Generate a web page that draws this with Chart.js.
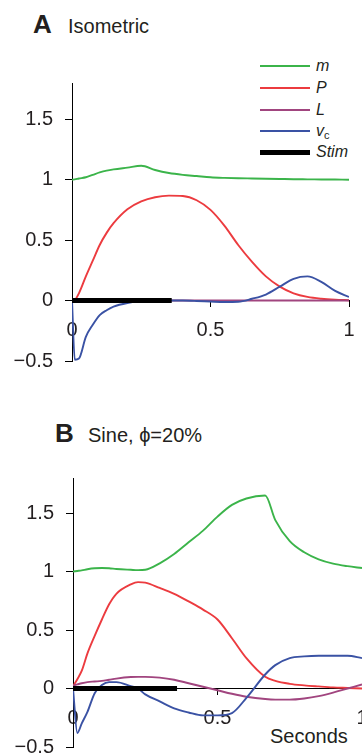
<!DOCTYPE html>
<html>
<head>
<meta charset="utf-8">
<script src="https://cdn.jsdelivr.net/npm/chart.js@4.4.1/dist/chart.umd.min.js"></script>
<style>
  body { margin: 0; width: 362px; height: 755px; position: relative; overflow: hidden; background: #fff;
         font-family: "Liberation Sans", Arial, sans-serif; color: #231f20; }
  canvas { position: absolute; left: 0; }
  #chartA { top: 0; }
  #chartB { top: 380px; }
  .t { position: absolute; white-space: nowrap; }
  .big { font-size: 26px; line-height: 26px; font-weight: bold; }
  .sub { font-size: 20px; line-height: 20px; }
  .key { position: absolute; left: 260px; width: 50px; }
  .lab { position: absolute; left: 316px; font-size: 16px; line-height: 16px; font-style: italic; }
  .lab sub { font-style: normal; font-size: 11px; vertical-align: -3px; }
</style>
</head>
<body>
<div class="t big" style="left:33px; top:11px">A</div>
<div class="t sub" style="left:68px; top:16px">Isometric</div>
<div class="t big" style="left:55px; top:420px">B</div>
<div class="t sub" style="left:88px; top:425px">Sine, ϕ=20%</div>
<div class="t sub" style="left:270px; top:726px">Seconds</div>

<div class="key" style="top:65px; height:2px; background:#3bb44a"></div>
<div class="key" style="top:87px; height:2px; background:#ec3b3f"></div>
<div class="key" style="top:109px; height:2px; background:#a1457f"></div>
<div class="key" style="top:130px; height:2px; background:#3a52a4"></div>
<div class="key" style="top:150px; height:5px; background:#000"></div>
<div class="lab" style="top:58px">m</div>
<div class="lab" style="top:80px">P</div>
<div class="lab" style="top:102px">L</div>
<div class="lab" style="top:123px">v<sub>c</sub></div>
<div class="lab" style="top:144px">Stim</div>

<canvas id="chartA" width="362" height="380"></canvas>
<canvas id="chartB" width="362" height="375"></canvas>

<script>
// panel A, isometric
const timeA = [0, 0.01, 0.025, 0.05, 0.075, 0.1, 0.125, 0.15, 0.2, 0.25, 0.3, 0.35, 0.4, 0.45, 0.5, 0.55, 0.6, 0.65, 0.7, 0.75, 0.8, 0.85, 0.9, 0.95, 1];
const mA  = [1, 1.003, 1.01, 1.02, 1.04, 1.06, 1.075, 1.085, 1.1, 1.115, 1.08, 1.055, 1.04, 1.03, 1.02, 1.015, 1.012, 1.01, 1.008, 1.006, 1.004, 1.003, 1.002, 1.001, 1];
const pA  = [0, 0.005, 0.06, 0.2, 0.33, 0.46, 0.56, 0.64, 0.755, 0.82, 0.855, 0.868, 0.865, 0.83, 0.75, 0.62, 0.46, 0.32, 0.2, 0.115, 0.06, 0.03, 0.015, 0.007, 0.003];
const lA  = [0, 0, 0, 0, 0, 0, 0, 0, 0, 0, 0, 0, 0, 0, 0, 0, 0, 0, 0, 0, 0, 0, 0, 0, 0];
const vA  = [0, -0.49, -0.48, -0.3, -0.2, -0.12, -0.08, -0.05, -0.02, -0.005, 0, 0, 0, -0.003, -0.008, -0.012, -0.01, 0.015, 0.05, 0.115, 0.18, 0.2, 0.155, 0.08, 0.03];
const stimA = [0, 0.36];

// panel B, sine, phase 20%
const timeB = [0, 0.015, 0.03, 0.05, 0.075, 0.1, 0.125, 0.15, 0.2, 0.225, 0.25, 0.3, 0.35, 0.4, 0.45, 0.5, 0.55, 0.6, 0.665, 0.7, 0.75, 0.8, 0.85, 0.9, 0.95, 1];
const mB  = [1, 1.005, 1.01, 1.02, 1.028, 1.03, 1.028, 1.022, 1.015, 1.012, 1.015, 1.07, 1.15, 1.25, 1.35, 1.47, 1.57, 1.625, 1.65, 1.44, 1.26, 1.165, 1.105, 1.068, 1.046, 1.03];
const pB  = [0.02, 0.08, 0.15, 0.3, 0.45, 0.59, 0.72, 0.81, 0.89, 0.91, 0.905, 0.86, 0.81, 0.745, 0.675, 0.59, 0.43, 0.26, 0.1, 0.065, 0.04, 0.027, 0.018, 0.01, 0.005, 0];
const lB  = [0.025, 0.035, 0.045, 0.055, 0.06, 0.065, 0.075, 0.085, 0.098, 0.1, 0.1, 0.093, 0.075, 0.045, 0.015, -0.015, -0.045, -0.07, -0.09, -0.095, -0.095, -0.085, -0.065, -0.035, 0, 0.035];
const vB  = [0, -0.38, -0.3, -0.2, -0.04, 0.03, 0.055, 0.055, 0.02, 0, -0.05, -0.11, -0.17, -0.205, -0.23, -0.23, -0.21, -0.08, 0.12, 0.2, 0.26, 0.275, 0.28, 0.28, 0.28, 0.26];
const stimB = [0, 0.36];

const yTicks = [-0.5, 0, 0.5, 1, 1.5];
const xTicks = [0, 0.5, 1];

const colors = { m: '#3bb44a', P: '#ec3b3f', L: '#a1457f', vc: '#3a52a4', stim: '#000' };
const family = '"Liberation Sans", Arial, sans-serif';
const ink = '#231f20';

Chart.defaults.font.family = family;
Chart.defaults.color = ink;

const fmt = v => String(v).replace('-', '\u2212');

function series(times, vals, color, order, width) {
  return {
    data: times.map((t, i) => ({ x: t, y: vals[i] })),
    borderColor: color,
    borderWidth: width || 1.9,
    pointRadius: 0,
    fill: false,
    cubicInterpolationMode: 'monotone',
    borderCapStyle: 'butt',
    order
  };
}

function stimLine(times) {
  return series(times, times.map(() => 0), colors.stim, 0, 5);
}

function makePanel(id, t, m, p, l, v, stim, pad, yWidth) {
  return new Chart(document.getElementById(id), {
    type: 'line',
    data: {
      datasets: [
        series(t, m, colors.m, 4),
        series(t, p, colors.P, 3),
        series(t, l, colors.L, 2),
        series(t, v, colors.vc, 1),
        stimLine(stim)
      ]
    },
    options: {
      responsive: false,
      animation: false,
      events: [],
      layout: { padding: pad },
      plugins: { legend: { display: false }, tooltip: { enabled: false } },
      scales: {
        x: {
          type: 'linear',
          min: 0,
          max: 1,
          position: { y: 0 },
          afterBuildTicks: s => { s.ticks = xTicks.map(value => ({ value })); },
          afterFit: s => { s.paddingLeft = 0; s.paddingRight = 0; },
          ticks: { padding: 12, maxRotation: 0, color: ink, font: { size: 20 }, callback: fmt },
          grid: { drawOnChartArea: false, tickLength: 6, tickColor: '#000', tickWidth: 1 },
          border: { color: '#000', width: 1 }
        },
        y: {
          type: 'linear',
          min: -0.5,
          max: 1.8,
          afterBuildTicks: s => { s.ticks = yTicks.map(value => ({ value })); },
          afterFit: s => { s.width = yWidth; s.paddingTop = 0; s.paddingBottom = 0; },
          ticks: { padding: 12, color: ink, font: { size: 20 }, callback: fmt },
          grid: { drawOnChartArea: false, tickLength: 7, tickColor: '#000', tickWidth: 1 },
          border: { color: '#000', width: 1 }
        }
      }
    }
  });
}

makePanel('chartA', timeA, mA, pA, lA, vA, stimA, { top: 83, right: 13, bottom: 19, left: 0 }, 72);
makePanel('chartB', timeB, mB, pB, lB, vB, stimB, { top: 98, right: 0, bottom: 8, left: 0 }, 73);
</script>
</body>
</html>
